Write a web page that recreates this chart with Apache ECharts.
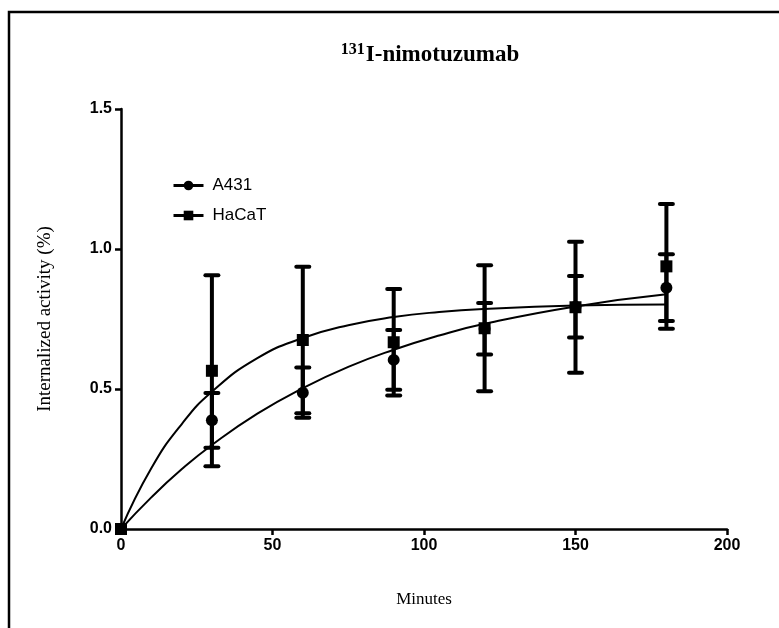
<!DOCTYPE html>
<html>
<head>
<meta charset="utf-8">
<script src="https://cdn.jsdelivr.net/npm/echarts@6/dist/echarts.min.js"></script>
<style>
  html, body { margin: 0; padding: 0; background: #fff; }
  #chart { width: 779px; height: 628px; }
</style>
</head>
<body>
<div id="chart"></div>
<script>
const minutes = [0, 30, 60, 90, 120, 150, 180]
const a431Mean = [0, 0.388, 0.487, 0.604, 0.715, 0.794, 0.862]
const a431Sd = [0, 0.098, 0.09, 0.107, 0.092, 0.11, 0.119]
const hacatMean = [0, 0.565, 0.675, 0.667, 0.717, 0.792, 0.938]
const hacatSd = [0, 0.341, 0.262, 0.19, 0.225, 0.234, 0.223]

// fitted curves, values
const fitMinutes = [0, 10, 20, 30, 45, 60, 75, 90, 105, 120, 150, 180]
const a431Fit = [0, 0.113, 0.213, 0.30, 0.412, 0.503, 0.579, 0.64, 0.691, 0.733, 0.795, 0.838]
const hacatFit = [0, 0.217, 0.374, 0.49, 0.61, 0.682, 0.728, 0.757, 0.775, 0.786, 0.798, 0.802]

const yTicks = [0, 0.5, 1.0, 1.5]
const xTicks = [0, 50, 100, 150, 200]

const pairs = (xs, ys) => xs.map((x, i) => [x, ys[i]])
const bars = (mean, sd) => minutes.map((x, i) => [x, mean[i] - sd[i], mean[i] + sd[i]])

function errorBar(params, api) {
  const x = api.value(0)
  const top = api.coord([x, api.value(2)])
  const bot = api.coord([x, api.value(1)])
  if (Math.abs(top[1] - bot[1]) < 1) return null
  const w = 6.5
  const st = { stroke: '#000', lineWidth: 4, lineCap: 'round' }
  return {
    type: 'group',
    children: [
      { type: 'line', shape: { x1: top[0], y1: top[1], x2: bot[0], y2: bot[1] }, style: { stroke: '#000', lineWidth: 4 } },
      { type: 'line', shape: { x1: top[0] - w, y1: top[1], x2: top[0] + w, y2: top[1] }, style: st },
      { type: 'line', shape: { x1: bot[0] - w, y1: bot[1], x2: bot[0] + w, y2: bot[1] }, style: st }
    ]
  }
}

const chart = echarts.init(document.getElementById('chart'))

const axisCommon = {
  axisLine: { show: true, lineStyle: { color: '#000', width: 2.5 } },
  axisTick: { show: true, length: 6, lineStyle: { color: '#000', width: 2.5 } },
  splitLine: { show: false },
  axisLabel: {
    color: '#000', fontFamily: 'Liberation Sans', fontWeight: 'bold', fontSize: 16, margin: 9
  },
  nameTextStyle: { color: '#000', fontFamily: 'Liberation Serif', fontSize: 17 }
}

const option = {
  animation: false,
  backgroundColor: '#fff',
  title: {
    text: '{sup|131}{main|I-nimotuzumab}',
    left: 425,
    top: 37,
    textAlign: 'center',
    textStyle: {
      rich: {
        sup: { fontFamily: 'Liberation Serif', fontWeight: 'bold', fontSize: 16, color: '#000', verticalAlign: 'top', padding: [0, 1, 10, 0] },
        main: { fontFamily: 'Liberation Serif', fontWeight: 'bold', fontSize: 23, color: '#000' }
      }
    }
  },
  graphic: [{
    type: 'rect',
    shape: { x: 9, y: 12, width: 900, height: 800 },
    style: { fill: 'none', stroke: '#000', lineWidth: 2.5 },
    silent: true
  }],
  legend: {
    data: ['A431', 'HaCaT'],
    orient: 'vertical',
    left: 172,
    top: 177,
    itemWidth: 30,
    itemHeight: 12,
    itemGap: 13,
    padding: 0,
    lineStyle: { width: 3 },
    textStyle: { color: '#000', fontFamily: 'Liberation Sans', fontSize: 17, padding: [0, 0, 0, 4] }
  },
  grid: { left: 121, right: 52, top: 109, bottom: 99 },
  xAxis: Object.assign({}, axisCommon, {
    type: 'value', min: xTicks[0], max: xTicks[xTicks.length - 1], interval: 50,
    name: 'Minutes', nameLocation: 'middle', nameGap: 62
  }),
  yAxis: Object.assign({}, axisCommon, {
    type: 'value', min: yTicks[0], max: yTicks[yTicks.length - 1], interval: 0.5,
    name: 'Internalized activity (%)', nameLocation: 'middle', nameGap: 66,
    nameTextStyle: Object.assign({}, axisCommon.nameTextStyle, { fontSize: 19 }),
    axisLabel: Object.assign({}, axisCommon.axisLabel, { formatter: v => v.toFixed(1) })
  }),
  series: [
    {
      name: 'A431', type: 'line', data: pairs(fitMinutes, a431Fit), smooth: true,
      symbol: 'circle', symbolSize: 12, showSymbol: false,
      lineStyle: { color: '#000', width: 2 }, itemStyle: { color: '#000' }, z: 2
    },
    {
      name: 'HaCaT', type: 'line', data: pairs(fitMinutes, hacatFit), smooth: true,
      symbol: 'rect', symbolSize: 12, showSymbol: false,
      lineStyle: { color: '#000', width: 2 }, itemStyle: { color: '#000' }, z: 2
    },
    { name: 'A431 sd', type: 'custom', renderItem: errorBar, data: bars(a431Mean, a431Sd), z: 3 },
    { name: 'HaCaT sd', type: 'custom', renderItem: errorBar, data: bars(hacatMean, hacatSd), z: 3 },
    {
      name: 'A431 pts', type: 'scatter', data: pairs(minutes, a431Mean), symbol: 'circle',
      symbolSize: 12, itemStyle: { color: '#000', opacity: 1 }, clip: false, z: 4
    },
    {
      name: 'HaCaT pts', type: 'scatter', data: pairs(minutes, hacatMean), symbol: 'rect',
      symbolSize: 12, itemStyle: { color: '#000', opacity: 1 }, clip: false, z: 4
    }
  ]
}

chart.setOption(option)
</script>
</body>
</html>
